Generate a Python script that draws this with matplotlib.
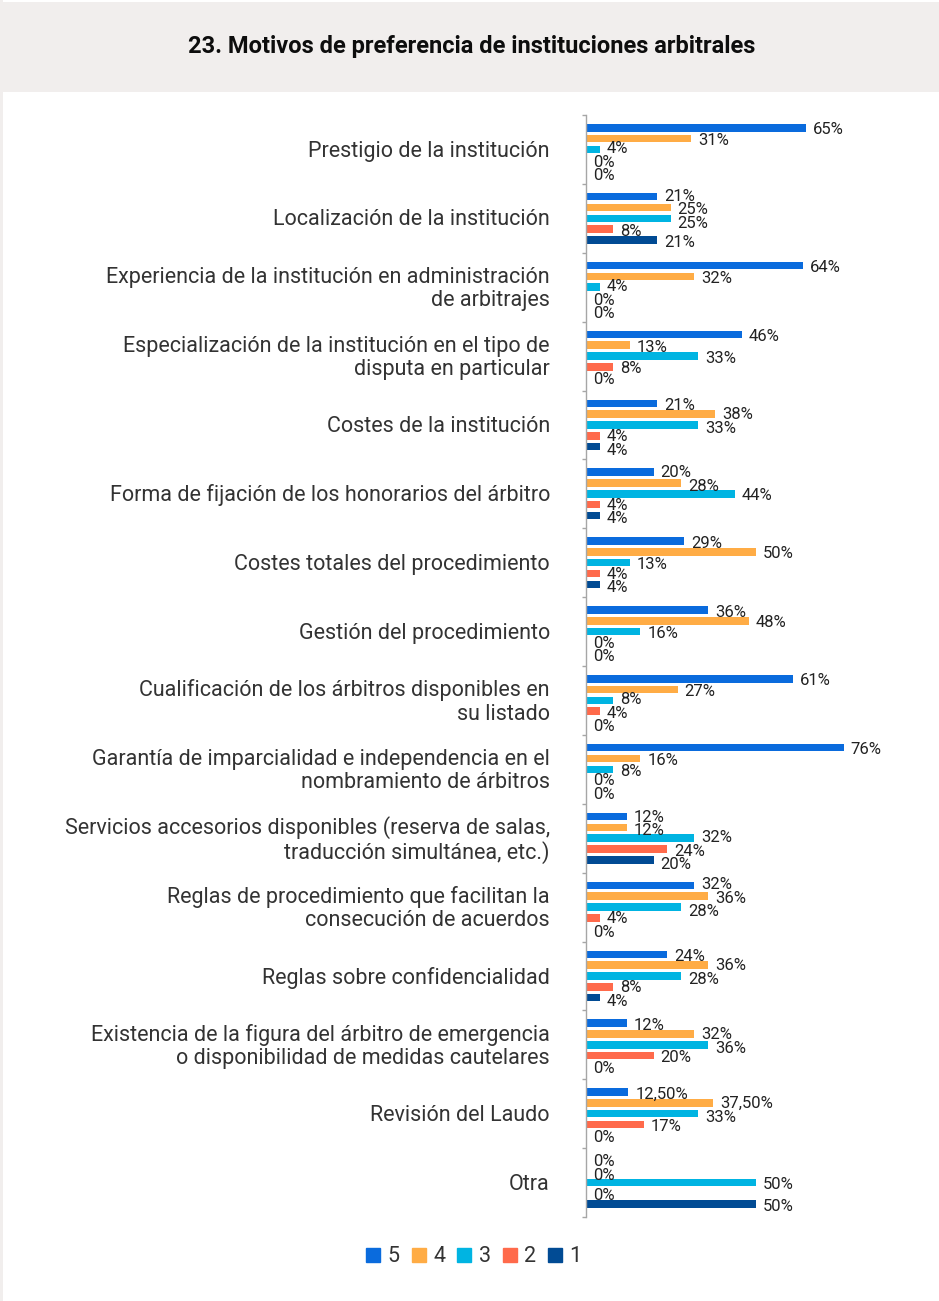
import matplotlib
matplotlib.use("Agg")
import matplotlib.pyplot as plt
from matplotlib.patches import Rectangle
import numpy as np

plt.rcParams['font.family'] = ['Roboto', 'DejaVu Sans']

categories = [
    "Prestigio de la institución",
    "Localización de la institución",
    "Experiencia de la institución en administración\nde arbitrajes",
    "Especialización de la institución en el tipo de\ndisputa en particular",
    "Costes de la institución",
    "Forma de fijación de los honorarios del árbitro",
    "Costes totales del procedimiento",
    "Gestión del procedimiento",
    "Cualificación de los árbitros disponibles en\nsu listado",
    "Garantía de imparcialidad e independencia en el\nnombramiento de árbitros",
    "Servicios accesorios disponibles (reserva de salas,\ntraducción simultánea, etc.)",
    "Reglas de procedimiento que facilitan la\nconsecución de acuerdos",
    "Reglas sobre confidencialidad",
    "Existencia de la figura del árbitro de emergencia\no disponibilidad de medidas cautelares",
    "Revisión del Laudo",
    "Otra",
]

series_names = ["5", "4", "3", "2", "1"]
s5 = [65, 21, 64, 46, 21, 20, 29, 36, 61, 76, 12, 32, 24, 12, 12.5, 0]
s4 = [31, 25, 32, 13, 38, 28, 50, 48, 27, 16, 12, 36, 36, 32, 37.5, 0]
s3 = [4, 25, 4, 33, 33, 44, 13, 16, 8, 8, 32, 28, 28, 36, 33, 50]
s2 = [0, 8, 0, 8, 4, 4, 4, 0, 4, 0, 24, 4, 8, 20, 17, 0]
s1 = [0, 21, 0, 0, 4, 4, 4, 0, 0, 0, 20, 0, 4, 0, 0, 50]
series = [s5, s4, s3, s2, s1]
colors = ["#0A6BDD", "#FFAC45", "#00B4E2", "#FF6A4B", "#014B94"]

W, H = 939, 1301
DPI = 100
fig = plt.figure(figsize=(W / DPI, H / DPI), dpi=DPI)
fig.patch.set_facecolor("white")

# title band
fig.patches.append(Rectangle((3 / W, 1 - 92 / H), 1, 90 / H, transform=fig.transFigure,
                             facecolor="#F1EEED", edgecolor="none", zorder=0))
fig.patches.append(Rectangle((0, 0), 3 / W, 1, transform=fig.transFigure,
                             facecolor="#F1EEED", edgecolor="none", zorder=0))
fig.text(472 / W, 1 - 46 / H, "23. Motivos de preferencia de instituciones arbitrales",
         ha="center", va="center", fontsize=17, fontweight="bold", color="#0D0D0D")

ax_left, ax_right = 586, 925
ax_top, ax_bot = 115, 1217
ax = fig.add_axes([ax_left / W, 1 - ax_bot / H, (ax_right - ax_left) / W, (ax_bot - ax_top) / H])

n = len(categories)
slot = 0.157
barh = 0.11
ax.set_xlim(0, 100)
ax.set_ylim(n - 0.5, -0.5)

labels = [[None] * 5 for _ in range(n)]
for j, (vals, col) in enumerate(zip(series, colors)):
    y = np.arange(n) + (j - 2) * slot
    ax.barh(y, vals, height=barh, color=col, edgecolor="none", label=series_names[j], zorder=2)
    for i, (yy, v) in enumerate(zip(y, vals)):
        txt = (f"{v:.0f}%" if float(v).is_integer() else f"{v:.2f}%".replace(".", ","))
        a = ax.annotate(txt, (v, yy), xytext=(5, -1.5), textcoords="offset points",
                        ha="left", va="center", fontsize=12, color="#222222")
        labels[i][j] = a

# spread overlapping value labels vertically within each group
fig.canvas.draw()
renderer = fig.canvas.get_renderer()
pt = 72.0 / DPI
GAP = 13.5  # px
for i in range(n):
    boxes = [lab.get_window_extent(renderer) for lab in labels[i]]
    x0 = [b.x0 for b in boxes]
    x1 = [b.x1 for b in boxes]
    off = [0.0] * 5  # downward pixel shift
    base = [b.y0 + b.height / 2 for b in boxes]
    for _ in range(200):
        moved = False
        for a_ in range(5):
            for b_ in range(a_ + 1, 5):
                if x0[a_] < x1[b_] - 1 and x0[b_] < x1[a_] - 1:
                    ya = base[a_] - off[a_]
                    yb = base[b_] - off[b_]
                    d = ya - yb  # a above b -> positive
                    if d < GAP:
                        push = (GAP - d) / 2 + 0.05
                        off[a_] -= push
                        off[b_] += push
                        moved = True
        if not moved:
            break
    for j in range(5):
        labels[i][j].set_position((5, -1.5 - off[j] * pt))

ax.set_yticks(np.arange(n + 1) - 0.5)
ax.set_yticklabels([])
ax.tick_params(axis="y", length=3, color="#A6A6A6", width=1)
ax.set_xticks([])
for s in ["top", "right", "bottom"]:
    ax.spines[s].set_visible(False)
ax.spines["left"].set_color("#A6A6A6")
ax.spines["left"].set_linewidth(1)

for i, c in enumerate(categories):
    ax.annotate(c, (0, i), xytext=(-26, -1.2), textcoords="offset points",
                ha="right", va="center", fontsize=15.5, color="#333333",
                multialignment="right", linespacing=1.15, annotation_clip=False)

handles = [Rectangle((0, 0), 1, 1, color=c) for c in colors]
fig.legend(handles, series_names, loc="center", bbox_to_anchor=(474 / W, 1 - 1257 / H),
           ncol=5, frameon=False, fontsize=15.5, handlelength=0.65, handleheight=0.65,
           handletextpad=0.35, columnspacing=0.55, labelcolor="#333333")

fig.savefig("out.png", dpi=DPI, facecolor="white")
